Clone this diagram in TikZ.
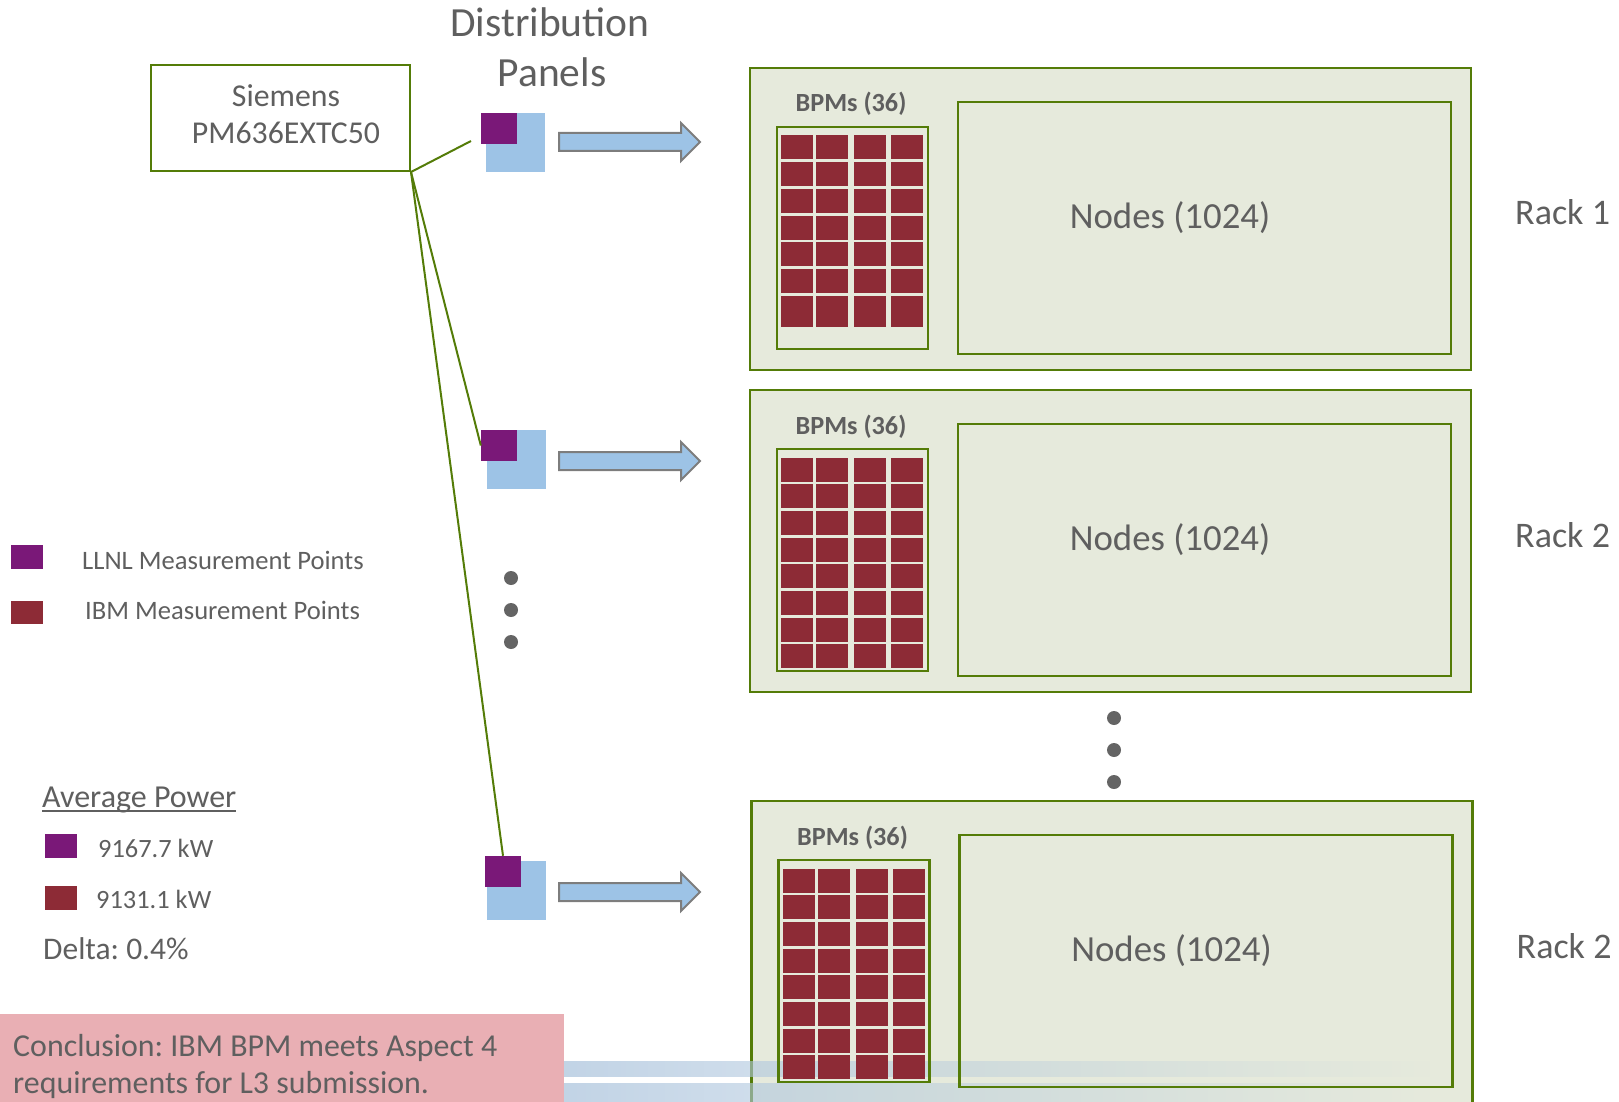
\documentclass[tikz,border=0pt]{standalone}
\usepackage{fontspec}
\setmainfont{Carlito}
\usetikzlibrary{fadings}
\frenchspacing

\definecolor{txtgray}{RGB}{95,95,95}
\definecolor{rackfill}{RGB}{230,234,220}
\definecolor{olive}{RGB}{84,124,8}
\definecolor{bpmred}{RGB}{141,43,54}
\definecolor{llnl}{RGB}{122,24,120}
\definecolor{panelblue}{RGB}{157,195,230}
\definecolor{arrowgray}{RGB}{125,125,125}
\definecolor{notepink}{RGB}{233,175,180}
\definecolor{bandblue}{RGB}{176,199,222}
\definecolor{dotgray}{RGB}{100,100,100}

\tikzfading[name=bandfade, left color=transparent!20, right color=transparent!100]

\begin{document}
\begin{tikzpicture}[x=1pt,y=-1pt,
  txt/.style={text=txtgray, inner sep=0pt},
  frame/.style={draw=olive, line width=2.4pt, inner sep=0pt},
  rackbox/.style={frame, fill=rackfill, minimum width=721pt},
  sbox/.style={draw=olive, line width=2pt, inner sep=0pt, minimum width=259pt, minimum height=106pt},
  panel/.style={fill=panelblue, inner sep=0pt, minimum size=59pt},
  meter/.style={fill=llnl, inner sep=0pt, minimum width=36pt, minimum height=31pt},
  wire/.style={draw=olive, line width=2pt},
  blockarrow/.style={draw=arrowgray, fill=panelblue, line width=2pt},
  dot/.style={circle, fill=dotgray, inner sep=0pt, minimum size=14pt},
  swatch/.style={inner sep=0pt, minimum width=32pt, minimum height=24pt}
]
\useasboundingbox (0,0) rectangle (1619,1102);
\clip (0,0) rectangle (1619,1102);

% ---------- title ----------
\node[txt, anchor=base, font=\fontsize{41.5}{50}\selectfont] (title1) at (550,37) {Distribution};
\node[txt, anchor=base, font=\fontsize{41.5}{50}\selectfont] (title2) at (552,87) {Panels};

% ---------- power meter ----------
\node[sbox] (siemens) at (280.5,118) {};
\node[txt, anchor=base, font=\fontsize{31.8}{38}\selectfont] (sname) at (286,107) {Siemens};
\node[txt, anchor=base, font=\fontsize{31.8}{38}\selectfont] (smodel) at (286,144) {PM636EXTC50};

% ---------- distribution panels ----------
\node[panel] (p1) at (515.5,142.5) {};
\node[meter] (m1) at (499,128.5) {};
\node[panel] (p2) at (516,459.5) {};
\node[meter] (m2) at (499,445.5) {};
\node[panel] (p3) at (516,890) {};
\node[meter] (m3) at (503,871.5) {};

\coordinate (tap1) at (471,141);
\draw[wire] (siemens.south east) -- (tap1);
\draw[wire] (siemens.south east) -- (m2.west);
\draw[wire] (siemens.south east) -- (m3.north);

% block arrows towards the racks
\foreach \yc in {142,461,892}{
  \draw[blockarrow] (559,\yc-9) -- (681,\yc-9) -- (681,\yc-19) -- (700,\yc)
     -- (681,\yc+19) -- (681,\yc+9) -- (559,\yc+9) -- cycle;
}

% more panels
\node[dot] (pd1) at (511,578) {};
\node[dot] (pd2) at (511,610) {};
\node[dot] (pd3) at (511,642) {};

% ---------- racks ----------
\foreach \dx/\T/\H/\nrows/\i/\lab in {0/68/302/7/1/Rack 1, 0/390/302/8/2/Rack 2, 1.5/801/320/8/3/Rack 2}{
  \begin{scope}[shift={(\dx,\T)}]
    \node[rackbox, minimum height=\H pt] (rack\i) at (1110.5,\H/2) {};
    \ifnum\i=3
      % light band running along the bottom of the page
      \fill[bandblue, path fading=bandfade] (540,260) rectangle (1430,276);
      \fill[bandblue, path fading=bandfade] (540,282) rectangle (1430,310);
    \fi
    \node[frame, minimum width=151pt, minimum height=222pt] (bpm\i) at (852.5,170) {};
    \node[frame, minimum width=493pt, minimum height=252pt] (nodes\i) at (1204.5,160) {};
    \node[txt, anchor=base, font=\bfseries\fontsize{26.2}{31}\selectfont] (bpmlab\i) at (851,44) {BPMs (36)};
    \node[txt, anchor=base, font=\fontsize{36.8}{44}\selectfont] (nodelab\i) at (1170,160) {Nodes (1024)};
    \node[txt, anchor=base west, font=\fontsize{36}{43}\selectfont] (racklab\i) at (1515,157) {\lab};
    \foreach \r in {1,...,\nrows}{
      \foreach \cx in {781,816,854,891}{
        \fill[bpmred] (\cx,{67.5+(\r-1)*26.67}) rectangle ++(32,24);
      }
    }
    \ifnum\i=1
      \foreach \cx in {781,816,854,891}{
        \fill[bpmred] (\cx,227.5) rectangle ++(32,31);
      }
    \fi
  \end{scope}
}

% more racks
\node[dot] (rd1) at (1114,718) {};
\node[dot] (rd2) at (1114,750) {};
\node[dot] (rd3) at (1114,782) {};

% ---------- legend ----------
\node[swatch, fill=llnl, anchor=north west] (leg1) at (11,545) {};
\node[swatch, fill=bpmred, anchor=north west, minimum height=23pt] (leg2) at (11,601) {};
\node[txt, anchor=base west, font=\fontsize{26.6}{32}\selectfont] (leg1t) at (82,569) {LLNL Measurement Points};
\node[txt, anchor=base west, font=\fontsize{26.6}{32}\selectfont] (leg2t) at (85,619) {IBM Measurement Points};

% ---------- averages ----------
\node[txt, anchor=base west, font=\fontsize{32}{38}\selectfont] (avg) at (42,807) {Average Power};
\draw[txtgray, line width=2.2pt] ([yshift=-4pt]avg.base west) -- ([yshift=-4pt]avg.base east);
\node[swatch, fill=llnl, anchor=north west] (av1) at (45,834) {};
\node[swatch, fill=bpmred, anchor=north west] (av2) at (45,886) {};
\node[txt, anchor=base west, font=\fontsize{26.4}{32}\selectfont] (av1t) at (98,857) {9167.7 kW};
\node[txt, anchor=base west, font=\fontsize{26.4}{32}\selectfont] (av2t) at (96,908) {9131.1 kW};
\node[txt, anchor=base west, font=\fontsize{31.5}{38}\selectfont] (delta) at (43,959) {Delta: 0.4\%};

% ---------- conclusion ----------
\node[fill=notepink, inner sep=0pt, anchor=north west, minimum width=564pt, minimum height=100pt] (concl) at (0,1014) {};
\node[txt, anchor=base west, font=\fontsize{31.9}{37}\selectfont] (concl1) at (13,1056) {Conclusion: IBM BPM meets Aspect 4};
\node[txt, anchor=base west, font=\fontsize{31.9}{37}\selectfont] (concl2) at (13,1093) {requirements for L3 submission.};
\end{tikzpicture}
\end{document}
